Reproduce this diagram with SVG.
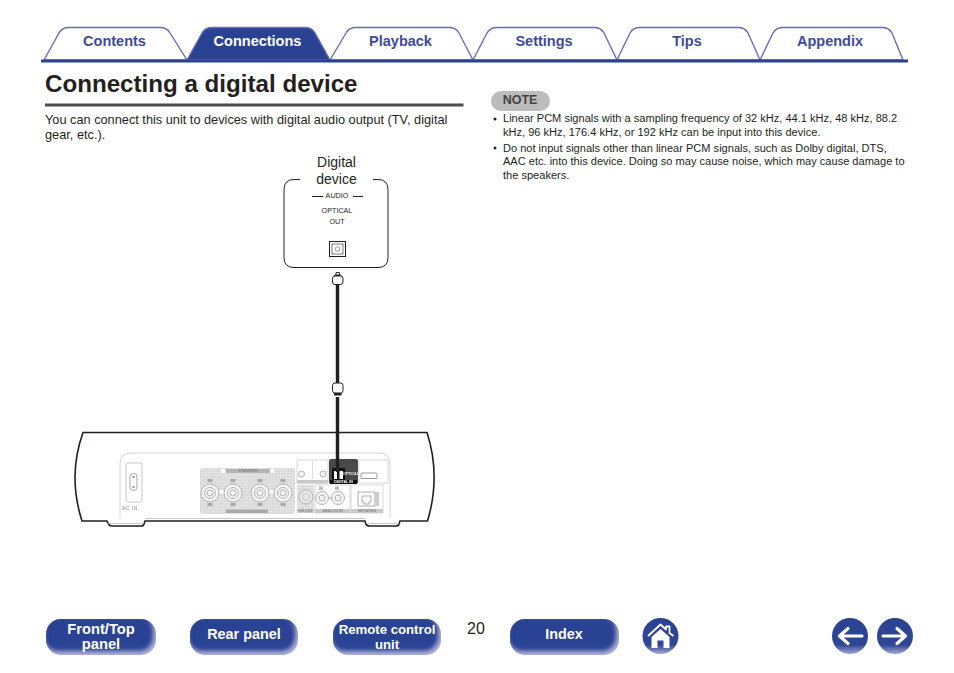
<svg xmlns="http://www.w3.org/2000/svg" width="954" height="673" viewBox="0 0 954 673">
<style>
text{font-family:"Liberation Sans",Arial,sans-serif}
.tab{fill:#fff;stroke:#6a6cb8;stroke-width:1.4}
.tl{font-size:14.5px;font-weight:700;fill:#3e4a9b;text-anchor:middle}
.bt{font-size:14.4px;font-weight:700;fill:#fff;text-anchor:middle}
.body{font-size:12.75px;fill:#231f20}
.note{font-size:11.05px;fill:#231f20}
.u{fill:none;stroke:#231f20;stroke-width:1.6;stroke-linejoin:miter}
.lg{fill:#fff;stroke:#d8d8d8;stroke-width:1}
.g{fill:#c9c9c9}
.j{fill:#f4f4f4;stroke:#b4b4b4;stroke-width:1}
.tiny{font-size:3.6px;fill:#8a8a8a;font-weight:700;text-anchor:middle}
.cable{stroke:#231f20;stroke-width:3.4;fill:none}
</style>
<defs>
<filter id="b" x="-10%" y="-25%" width="120%" height="150%"><feGaussianBlur stdDeviation="2.2"/></filter>
<filter id="soft" x="-2%" y="-2%" width="104%" height="104%"><feGaussianBlur stdDeviation=".35"/></filter>
<clipPath id="c1"><rect x="46" y="619" width="110" height="36" rx="15"/></clipPath>
<clipPath id="c2"><rect x="190" y="619" width="108" height="36" rx="15"/></clipPath>
<clipPath id="c3"><rect x="333" y="619" width="108" height="36" rx="15"/></clipPath>
<clipPath id="c4"><rect x="510" y="619" width="109" height="36" rx="15"/></clipPath>
<linearGradient id="cg" x1="0" y1="0" x2="0" y2="1"><stop offset="0" stop-color="#2b4293"/><stop offset=".75" stop-color="#2f4697"/><stop offset="1" stop-color="#a5a8d6"/></linearGradient>
<pattern id="dots" width="3" height="3" patternUnits="userSpaceOnUse"><rect width="3" height="3" fill="#dcdcdc"/><circle cx="1.5" cy="1.5" r=".6" fill="#f5f5f5"/></pattern>
</defs>

<g id="tabs">
<path class="tab" d="M44 60L59 33Q62 27.500 69 27.500H160Q167 27.500 170 33L187 60Z"/>
<path class="tab" d="M330 60L346 33Q349 27.500 356 27.500H449Q456 27.500 459 33L473 60Z"/>
<path class="tab" d="M473 60L487 33Q490 27.500 497 27.500H594Q601 27.500 604 33L617 60Z"/>
<path class="tab" d="M617 60L630 33Q633 27.500 640 27.500H738Q745 27.500 748 33L760 60Z"/>
<path class="tab" d="M760 60L773 33Q776 27.500 783 27.500H882Q889 27.500 892 33L903 60Z"/>
<path d="M187 60L202 33Q205 27.500 212 27.500H305Q312 27.500 315 33L330 60Z" fill="#2b4293" stroke="#6a6cb8" stroke-width="1.4"/>
<rect x="41" y="59.500" width="867" height="3" fill="#2b4293"/>
<text class="tl" x="114.500" y="46">Contents</text>
<text class="tl" x="257.500" y="46" style="fill:#fff">Connections</text>
<text class="tl" x="400.500" y="46">Playback</text>
<text class="tl" x="544" y="46">Settings</text>
<text class="tl" x="687" y="46">Tips</text>
<text class="tl" x="830" y="46">Appendix</text>
</g>

<g id="heading">
<text x="45" y="92" font-size="24.150" font-weight="700" fill="#231f20">Connecting a digital device</text>
<rect x="45" y="103.500" width="418.500" height="3" fill="#4d4d4d"/>
<text class="body" x="45" y="124">You can connect this unit to devices with digital audio output (TV, digital</text>
<text class="body" x="45" y="139">gear, etc.).</text>
</g>

<g id="note">
<rect x="491" y="91" width="59" height="20" rx="10" fill="#bcbcbc"/>
<text x="520" y="104" font-size="12.500" font-weight="700" fill="#444" text-anchor="middle">NOTE</text>
<circle cx="495" cy="119" r="1.500" fill="#231f20"/>
<text class="note" x="503" y="122">Linear PCM signals with a sampling frequency of 32 kHz, 44.1 kHz, 48 kHz, 88.2</text>
<text class="note" x="503" y="136">kHz, 96 kHz, 176.4 kHz, or 192 kHz can be input into this device.</text>
<circle cx="495" cy="148" r="1.500" fill="#231f20"/>
<text class="note" x="503" y="151.500">Do not input signals other than linear PCM signals, such as Dolby digital, DTS,</text>
<text class="note" x="503" y="165">AAC etc. into this device. Doing so may cause noise, which may cause damage to</text>
<text class="note" x="503" y="179">the speakers.</text>
</g>

<g id="digital-device">
<path d="M300 179.500H294Q284 179.500 284 189.500V257.500Q284 267.500 294 267.500H378Q388 267.500 388 257.500V189.500Q388 179.500 378 179.500H373" fill="none" stroke="#231f20" stroke-width="1"/>
<text x="336.500" y="167" font-size="14" fill="#231f20" text-anchor="middle">Digital</text>
<text x="336.500" y="184" font-size="14" fill="#231f20" text-anchor="middle">device</text>
<path d="M312 196.500H323M353 196.500H363" stroke="#231f20" stroke-width="1"/>
<text x="337" y="198" font-size="7.200" fill="#231f20" text-anchor="middle">AUDIO</text>
<text x="337" y="213" font-size="7.200" fill="#231f20" text-anchor="middle">OPTICAL</text>
<text x="337" y="224" font-size="7.200" fill="#231f20" text-anchor="middle">OUT</text>
<rect x="329.500" y="241.500" width="16" height="15" fill="#fff" stroke="#231f20" stroke-width="1"/>
<rect x="332" y="244" width="11" height="10" fill="#fff" stroke="#231f20" stroke-width=".6"/>
<circle cx="337.500" cy="249" r="2.300" fill="none" stroke="#555" stroke-width=".6"/>
</g>

<g id="rear-unit">
<path class="u" d="M83 432.500H427Q441 476 427.500 521H400L399 524Q398.500 526 396 526H370Q366 526 365.500 523L365 521H145L144 524Q143.500 526 141 526H112Q109 526 108 523L107 521H82Q67.500 476 83 432.500Z"/>
<path d="M108 523.500H144M366 523.500H399" stroke="#bbb" stroke-width=".8" fill="none"/>
<path d="M145 518.500H365" stroke="#c8c8c8" stroke-width="1" fill="none"/>
<g filter="url(#soft)">
<path d="M120 518V464Q120 453 131 453H379Q390 453 390 464V518" fill="none" stroke="#d4d4d4" stroke-width="1"/>
<rect x="126" y="463" width="16" height="39" rx="2" fill="#fff" stroke="#c8c8c8"/>
<path d="M130 477a3.500 3.500 0 0 1 7 0v10a3.500 3.500 0 0 1-7 0z" fill="none" stroke="#aaa" stroke-width="1"/>
<circle cx="133.500" cy="477" r="1.200" fill="#999"/><circle cx="133.500" cy="487" r="1.200" fill="#999"/>
<text x="130" y="510" font-size="5" fill="#888" text-anchor="middle" letter-spacing=".5">AC IN</text>
<rect x="200" y="468" width="95" height="46" rx="3" fill="url(#dots)"/>
<rect x="226" y="469" width="46" height="4" fill="#b5b5b5"/>
<rect x="221" y="469" width="4" height="4" fill="#fff"/><rect x="270" y="469" width="4" height="4" fill="#fff"/>
<text class="tiny" x="248" y="472.400">SPEAKERS</text>
<rect x="226" y="509.500" width="42" height="3.500" fill="#aaa"/>
<g id="binding-posts">
<path d="M219 492h5M269 492h5" stroke="#fff" stroke-width="3"/>
<circle cx="210" cy="493" r="9" class="j"/><circle cx="210" cy="493" r="5.500" class="j"/><circle cx="210" cy="493" r="3" class="j"/>
<circle cx="233" cy="493" r="9" class="j"/><circle cx="233" cy="493" r="5.500" class="j"/><circle cx="233" cy="493" r="3" class="j"/>
<circle cx="260" cy="493" r="9" class="j"/><circle cx="260" cy="493" r="5.500" class="j"/><circle cx="260" cy="493" r="3" class="j"/>
<circle cx="283" cy="493" r="9" class="j"/><circle cx="283" cy="493" r="5.500" class="j"/><circle cx="283" cy="493" r="3" class="j"/>
<path d="M207.500 479h5v3h-5zM230.500 479h5v3h-5zM257.500 479h5v3h-5zM280.500 479h5v3h-5zM207.500 503h5v3h-5zM230.500 503h5v3h-5zM257.500 503h5v3h-5zM280.500 503h5v3h-5z" fill="#a8a8a8"/>
</g>
<rect x="297" y="460" width="31" height="23" class="lg"/>
<path d="M312.500 461V479" stroke="#ddd"/>
<circle cx="301.500" cy="474" r="3" class="j"/><circle cx="323" cy="474" r="3" class="j"/>
<rect x="297" y="480" width="31" height="3.500" class="g"/>
<rect x="329" y="459" width="29" height="25" rx="2" fill="#4a4a4a"/>
<rect x="332" y="468" width="13" height="12" fill="#111"/>
<path d="M334 471h3v8h-3zM339.500 471h3.500v8h-3.500z" fill="#fff"/>
<text x="351" y="474.500" font-size="3.600" font-weight="700" fill="#eee" text-anchor="middle">OPTICAL</text>
<rect x="330" y="480" width="27" height="4" fill="#111"/>
<text x="343.500" y="483.300" font-size="3.600" font-weight="700" fill="#fff" text-anchor="middle">DIGITAL IN</text>
<rect x="359" y="460" width="29" height="23" class="lg"/>
<rect x="361" y="473" width="16" height="5.500" rx="1" fill="#fff" stroke="#999"/>
<rect x="297" y="485" width="17" height="28" fill="url(#dots)"/>
<circle cx="306" cy="497" r="7" fill="#e8e8e8" stroke="#b4b4b4"/><circle cx="306" cy="497" r="3.500" fill="none" stroke="#c4c4c4"/>
<rect x="297" y="509" width="17" height="4" class="g"/>
<text class="tiny" x="305.500" y="512.300">SW OUT</text>
<rect x="315" y="485" width="35" height="28" class="lg"/>
<rect x="319" y="486.500" width="4" height="3.500" fill="#bbb"/><rect x="335" y="486.500" width="4" height="3.500" fill="#bbb"/>
<path d="M328 498h4" stroke="#aaa"/>
<circle cx="322" cy="498" r="6.500" class="j"/><circle cx="322" cy="498" r="3" class="j"/>
<circle cx="338" cy="498" r="6.500" class="j"/><circle cx="338" cy="498" r="3" class="j"/>
<rect x="315" y="509" width="35" height="4" class="g"/>
<text class="tiny" x="332.500" y="512.300">ANALOG IN</text>
<rect x="351" y="485" width="32" height="28" class="lg"/>
<path d="M358 492h17v14h-17zM362 496h9v6h-2v2h-5v-2h-2z" fill="#fff" stroke="#999" stroke-width=".8"/>
<rect x="375" y="492" width="4" height="14" fill="#ccc"/>
<rect x="351" y="509" width="32" height="4" class="g"/>
<text class="tiny" x="367" y="512.300">NETWORK</text>
</g>
</g>

<g id="connectors">
<path class="cable" d="M337.500 284V383M337.500 397V472"/>
<path d="M336 272.500h3.500v3h-3.500zM334.500 275h6.500v1.500h-6.500z" fill="#fff" stroke="#231f20" stroke-width=".9"/>
<rect x="332.500" y="276" width="10.500" height="8.500" rx="2.500" fill="#fff" stroke="#231f20" stroke-width="1"/>
<rect x="332.500" y="383" width="10.500" height="10" rx="2.500" fill="#fff" stroke="#231f20" stroke-width="1"/>
<rect x="334" y="393" width="7.500" height="2.500" fill="#231f20"/>
</g>

<g id="btn-front">
<rect x="46" y="619" width="110" height="36" rx="15" fill="#aeb0da"/>
<g clip-path="url(#c1)"><rect x="44" y="616" width="109" height="35" rx="14" fill="#2b4293" filter="url(#b)"/></g>
<text class="bt" x="101" y="633.500" style="font-size:14.700px">Front/Top</text><text class="bt" x="101" y="648.500" style="font-size:14.700px">panel</text>
</g>
<g id="btn-rear">
<rect x="190" y="619" width="108" height="36" rx="15" fill="#aeb0da"/>
<g clip-path="url(#c2)"><rect x="188" y="616" width="107" height="35" rx="14" fill="#2b4293" filter="url(#b)"/></g>
<text class="bt" x="244" y="639">Rear panel</text>
</g>
<g id="btn-remote">
<rect x="333" y="619" width="108" height="36" rx="15" fill="#aeb0da"/>
<g clip-path="url(#c3)"><rect x="331" y="616" width="107" height="35" rx="14" fill="#2b4293" filter="url(#b)"/></g>
<text class="bt" x="387" y="634" style="font-size:13.200px">Remote control</text><text class="bt" x="387" y="648.500" style="font-size:13.200px">unit</text>
</g>
<text id="page-number" x="467" y="634" font-size="16" fill="#231f20">20</text>
<g id="btn-index">
<rect x="510" y="619" width="109" height="36" rx="15" fill="#aeb0da"/>
<g clip-path="url(#c4)"><rect x="508" y="616" width="108" height="35" rx="14" fill="#2b4293" filter="url(#b)"/></g>
<text class="bt" x="564" y="639">Index</text>
</g>
<g id="btn-home">
<circle cx="660.500" cy="636" r="18" fill="url(#cg)"/>
<path d="M648 636L660.500 624.500L666 629.500V626.500H669.500V633L673.500 636" fill="none" stroke="#fff" stroke-width="1.800" stroke-linejoin="round"/>
<path d="M651.500 637L660.500 629L669.500 637V648H663.500V640.500H657.500V648H651.500Z" fill="#fff"/>
</g>
<g id="btn-prev">
<circle cx="850" cy="636" r="18" fill="url(#cg)"/>
<path d="M862 636H841M848 628.500L839.500 636L848 643.500" fill="none" stroke="#fff" stroke-width="3.200" stroke-linecap="round" stroke-linejoin="round"/>
</g>
<g id="btn-next">
<circle cx="895" cy="636" r="18" fill="url(#cg)"/>
<path d="M883 636H904M897 628.500L905.500 636L897 643.500" fill="none" stroke="#fff" stroke-width="3.200" stroke-linecap="round" stroke-linejoin="round"/>
</g>
</svg>
